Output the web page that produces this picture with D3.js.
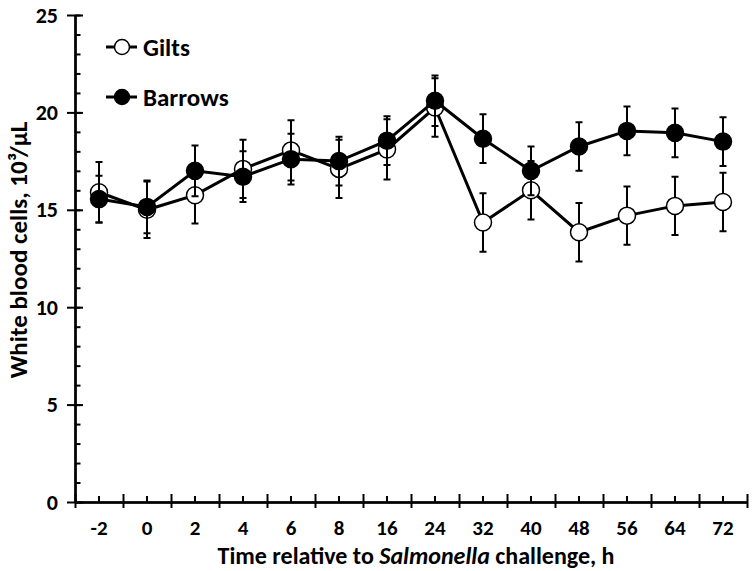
<!DOCTYPE html>
<html>
<head>
<meta charset="utf-8">
<script src="https://cdn.jsdelivr.net/npm/d3@7"></script>
<style>
  body { margin: 0; background: #fff; }
  text { font-family: Carlito, Calibri, Lato, sans-serif; font-weight: bold; fill: #000; }
</style>
</head>
<body>
<div id="chart"></div>
<script>
// Data
var hours = ["-2", "0", "2", "4", "6", "8", "16", "24", "32", "40", "48", "56", "64", "72"];
var gilts = [15.9, 15.0, 15.75, 17.1, 18.05, 17.1, 18.1, 20.25, 14.35, 16.0, 13.85, 14.7, 15.2, 15.4];
var giltsSE = [1.55, 1.45, 1.45, 1.5, 1.55, 1.5, 1.55, 1.5, 1.5, 1.5, 1.5, 1.5, 1.5, 1.5];
var barrows = [15.55, 15.15, 17.0, 16.7, 17.6, 17.5, 18.55, 20.6, 18.65, 17.0, 18.25, 19.05, 18.95, 18.5];
var barrowsSE = [1.2, 1.35, 1.3, 1.3, 1.3, 1.25, 1.25, 1.3, 1.25, 1.25, 1.25, 1.25, 1.25, 1.25];
var yTicks = [0, 5, 10, 15, 20, 25];

var width = 756;
var height = 571;
var margin = { top: 15, right: 9, bottom: 69, left: 75 };

var svg = d3.select("#chart")
  .append("svg")
  .attr("width", width)
  .attr("height", height);

var xScale = d3.scaleBand()
  .domain(hours)
  .range([margin.left, width - margin.right])
  .padding(0);

var xEdge = d3.scaleLinear()
  .domain([0, hours.length])
  .range([margin.left, width - margin.right]);

var yScale = d3.scaleLinear()
  .domain([0, 25])
  .range([height - margin.bottom, margin.top]);

var cx = function (i) { return xScale(hours[i]) + xScale.bandwidth() / 2; };

// y axis: major ticks cross the line, minor ticks point inward
svg.append("g")
  .attr("transform", "translate(" + margin.left + ",0)")
  .call(d3.axisLeft(yScale).tickValues(yTicks).tickSize(8).tickSizeOuter(0).tickPadding(9))
  .call(function (g) { g.selectAll("text").style("font-size", "22px"); });

svg.append("g")
  .attr("transform", "translate(" + margin.left + ",0)")
  .call(d3.axisRight(yScale).tickValues(yTicks).tickSize(8).tickSizeOuter(0).tickFormat(""));

svg.append("g")
  .attr("transform", "translate(" + margin.left + ",0)")
  .call(d3.axisRight(yScale).tickValues(d3.range(0, 26)).tickSize(5.5).tickSizeOuter(0).tickFormat(""));

// x axis: majors at category edges, minors at centres
var y0 = height - margin.bottom;
svg.append("g")
  .attr("transform", "translate(0," + y0 + ")")
  .call(d3.axisBottom(xEdge).tickValues(d3.range(hours.length + 1)).tickSize(6).tickSizeOuter(0).tickFormat(""));

svg.append("g")
  .attr("transform", "translate(0," + y0 + ")")
  .call(d3.axisTop(xEdge).tickValues(d3.range(hours.length + 1)).tickSize(8).tickSizeOuter(0).tickFormat(""));

svg.append("g")
  .attr("transform", "translate(0," + y0 + ")")
  .call(d3.axisTop(xScale).tickSize(6).tickSizeOuter(0).tickFormat(""));

svg.append("g")
  .attr("transform", "translate(0," + y0 + ")")
  .call(d3.axisBottom(xScale).tickSize(0).tickSizeOuter(0).tickPadding(18))
  .call(function (g) {
    g.select(".domain").remove();
    g.selectAll("text").style("font-size", "21px");
  });

svg.selectAll(".domain, .tick line")
  .attr("stroke", "#000")
  .attr("stroke-width", 2);

// axis titles
var xTitle = svg.append("text")
  .attr("x", (margin.left + width - margin.right) / 2 + 5)
  .attr("y", 564)
  .attr("text-anchor", "middle")
  .style("font-size", "24px");
xTitle.append("tspan").text("Time relative to ");
xTitle.append("tspan").style("font-style", "italic").text("Salmonella");
xTitle.append("tspan").text(" challenge, h");

svg.append("text")
  .attr("transform", "translate(27,250) rotate(-90)")
  .attr("text-anchor", "middle")
  .style("font-size", "25px")
  .text("White blood cells, 10\u00B3/\u00B5L");

// series
var series = [
  { name: "Gilts", values: gilts, se: giltsSE, fill: "#fff" },
  { name: "Barrows", values: barrows, se: barrowsSE, fill: "#000" }
];

var line = d3.line()
  .x(function (d, i) { return cx(i); })
  .y(function (d) { return yScale(d); });

series.forEach(function (s) {
  var g = svg.append("g");
  var idx = d3.range(s.values.length);

  // error bars
  g.selectAll(".bar")
    .data(idx)
    .enter().append("path")
    .attr("fill", "none")
    .attr("stroke", "#000")
    .attr("stroke-width", 2)
    .attr("d", function (i) {
      var x = cx(i), hi = yScale(s.values[i] + s.se[i]), lo = yScale(s.values[i] - s.se[i]);
      return "M" + (x - 3.5) + "," + hi + "H" + (x + 3.5) + "M" + x + "," + hi + "V" + lo +
        "M" + (x - 3.5) + "," + lo + "H" + (x + 3.5);
    });

  g.append("path")
    .datum(s.values)
    .attr("fill", "none")
    .attr("stroke", "#000")
    .attr("stroke-width", 3)
    .attr("d", line);

  g.selectAll("circle")
    .data(s.values)
    .enter().append("circle")
    .attr("cx", function (d, i) { return cx(i); })
    .attr("cy", function (d) { return yScale(d); })
    .attr("r", 8.5)
    .attr("fill", s.fill)
    .attr("stroke", "#000")
    .attr("stroke-width", 1.5);
});

// legend
var legend = svg.selectAll(".legend")
  .data(series)
  .enter().append("g")
  .attr("class", "legend")
  .attr("transform", function (d, i) { return "translate(106," + (47 + i * 50) + ")"; });

legend.append("line")
  .attr("x1", 0)
  .attr("x2", 31)
  .attr("stroke", "#000")
  .attr("stroke-width", 3);

legend.append("circle")
  .attr("cx", 16)
  .attr("r", 7.5)
  .attr("fill", function (d) { return d.fill; })
  .attr("stroke", "#000")
  .attr("stroke-width", 1.5);

legend.append("text")
  .attr("x", 37)
  .attr("dy", "0.35em")
  .style("font-size", "25px")
  .text(function (d) { return d.name; });
</script>
</body>
</html>
